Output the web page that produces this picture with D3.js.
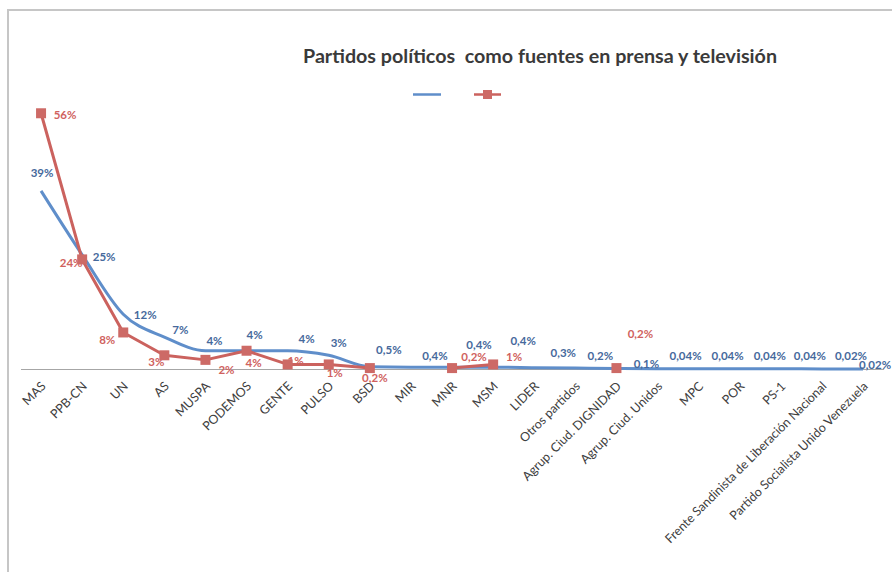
<!DOCTYPE html>
<html>
<head>
<meta charset="utf-8">
<script src="https://cdn.jsdelivr.net/npm/d3@7"></script>
<style>
  html, body { margin: 0; padding: 0; background: #fff; }
  svg { display: block; }
</style>
</head>
<body>
<svg id="chart" width="892" height="572"></svg>
<script>
// ---- data ----
const categories = ["MAS","PPB-CN","UN","AS","MUSPA","PODEMOS","GENTE","PULSO","BSD","MIR","MNR","MSM","LIDER","Otros partidos","Agrup. Ciud. DIGNIDAD","Agrup. Ciud. Unidos","MPC","POR","PS-1","Frente Sandinista de Liberación Nacional","Partido Socialista Unido Venezuela"];
const seriesBlue = [39,25,12,7,4,4,4,3,0.5,0.4,0.4,0.4,0.3,0.2,0.1,0.04,0.04,0.04,0.04,0.02,0.02];
const seriesRed  = [56,24,8,3,2,4,1,1,0.2,null,0.2,1,null,null,0.2,null,null,null,null,null,null];
const blueLabels = ["39%","25%","12%","7%","4%","4%","4%","3%","0,5%","0,4%","0,4%","0,4%","0,3%","0,2%","0,1%","0,04%","0,04%","0,04%","0,04%","0,02%","0,02%"];
const redLabels  = ["56%","24%","8%","3%","2%","4%","1%","1%","0,2%",null,"0,2%","1%",null,null,"0,2%",null,null,null,null,null,null];
const titleText = "Partidos políticos  como fuentes en prensa y televisión";

// label nudges (pixels from the point), to mimic the hand-placed labels
const blueNudge = [[1,-18],[22,2],[22,1],[16,-7],[9,-10],[8,-16],[19,-12],[10,-12],[19,-17],[24,-11],[27,-22],[30,-26],[29,-15],[25,-12],[30,-5],[28,-13],[29,-13],[30,-13],[29,-13],[29,-13],[12,-4]];
const redNudge  = [[24,2],[-11,4],[-16,8],[-8,7],[21,10],[7,12],[8,-3],[6,9],[5,10],null,[22,-11],[21,-7],null,null,[24,-34],null,null,null,null,null,null];

// ---- setup ----
const svg = d3.select("#chart");
const W = 892, H = 572;
const blueLine = "#5F8ECA", redLine = "#CB625E", redMarker = "#CD6A66";
const blueText = "#46699C", redText = "#D0625E";
const font = "Lato, 'Open Sans', sans-serif";

// frame
svg.append("path")
  .attr("d", `M8,${H} L8,10 L${W},10`)
  .attr("fill", "none").attr("stroke", "#C6C6C6").attr("stroke-width", 2);

// title
svg.append("text")
  .attr("x", 540).attr("y", 63)
  .attr("text-anchor", "middle")
  .style("white-space", "pre")
  .attr("font-family", font)
  .attr("font-weight", "bold").attr("font-size", 18.5)
  .attr("fill", "#3a3a3a")
  .attr("textLength", 474).attr("lengthAdjust", "spacingAndGlyphs")
  .text(titleText);

// legend (series have no names)
const lg = svg.append("g");
lg.append("line").attr("x1", 413).attr("x2", 441).attr("y1", 94.5).attr("y2", 94.5)
  .attr("stroke", blueLine).attr("stroke-width", 2.5);
lg.append("line").attr("x1", 474).attr("x2", 501).attr("y1", 94.5).attr("y2", 94.5)
  .attr("stroke", redLine).attr("stroke-width", 2.5);
lg.append("rect").attr("x", 483).attr("y", 90).attr("width", 9).attr("height", 9).attr("fill", redMarker);

// scales
const x = d3.scalePoint().domain(categories).range([20.5, 883.6]).padding(0.5);
const y = d3.scaleLinear().domain([0, 60]).range([369, 95]);

// axis
const axis = svg.append("g").attr("transform", "translate(0,369)")
  .call(d3.axisBottom(x).tickSize(0).tickSizeOuter(0));
axis.select(".domain").attr("stroke", "#A6A6A6").attr("stroke-width", 1);
axis.selectAll("text")
  .attr("x", 0).attr("y", 0).attr("dy", 0)
  .attr("text-anchor", "end")
  .attr("transform", "translate(5,18) rotate(-45)")
  .attr("font-family", font)
  .attr("font-size", 12.5)
  .attr("fill", "#404040");

const idx = categories.map((c, i) => i);

// red labels (drawn under the markers)
svg.append("g").selectAll("text").data(idx.filter(i => redLabels[i] !== null)).join("text")
  .attr("x", i => x(categories[i]) + redNudge[i][0])
  .attr("y", i => y(seriesRed[i]) + redNudge[i][1])
  .attr("dy", "0.35em")
  .attr("text-anchor", "middle")
  .attr("font-family", font)
  .attr("font-weight", "bold").attr("font-size", 11.5)
  .attr("fill", redText)
  .text(i => redLabels[i]);

// blue line (smoothed)
const lineB = d3.line()
  .x((d, i) => x(categories[i]))
  .y(d => y(d))
  .curve(d3.curveMonotoneX);
svg.append("path").datum(seriesBlue)
  .attr("d", lineB)
  .attr("fill", "none").attr("stroke", blueLine).attr("stroke-width", 3)
  .attr("stroke-linejoin", "round");

// red line (straight, with gaps)
const lineR = d3.line()
  .defined(d => d !== null)
  .x((d, i) => x(categories[i]))
  .y(d => y(d));
svg.append("path").datum(seriesRed)
  .attr("d", lineR)
  .attr("fill", "none").attr("stroke", redLine).attr("stroke-width", 3)
  .attr("stroke-linejoin", "round");

svg.append("g").selectAll("rect").data(idx.filter(i => seriesRed[i] !== null)).join("rect")
  .attr("x", i => x(categories[i]) - 5)
  .attr("y", i => y(seriesRed[i]) - 5)
  .attr("width", 10).attr("height", 10)
  .attr("fill", redMarker);

// blue labels
svg.append("g").selectAll("text").data(idx).join("text")
  .attr("x", i => x(categories[i]) + blueNudge[i][0])
  .attr("y", i => y(seriesBlue[i]) + blueNudge[i][1])
  .attr("dy", "0.35em")
  .attr("text-anchor", "middle")
  .attr("font-family", font)
  .attr("font-weight", "bold").attr("font-size", 11.5)
  .attr("fill", blueText)
  .text(i => blueLabels[i]);
</script>
</body>
</html>
